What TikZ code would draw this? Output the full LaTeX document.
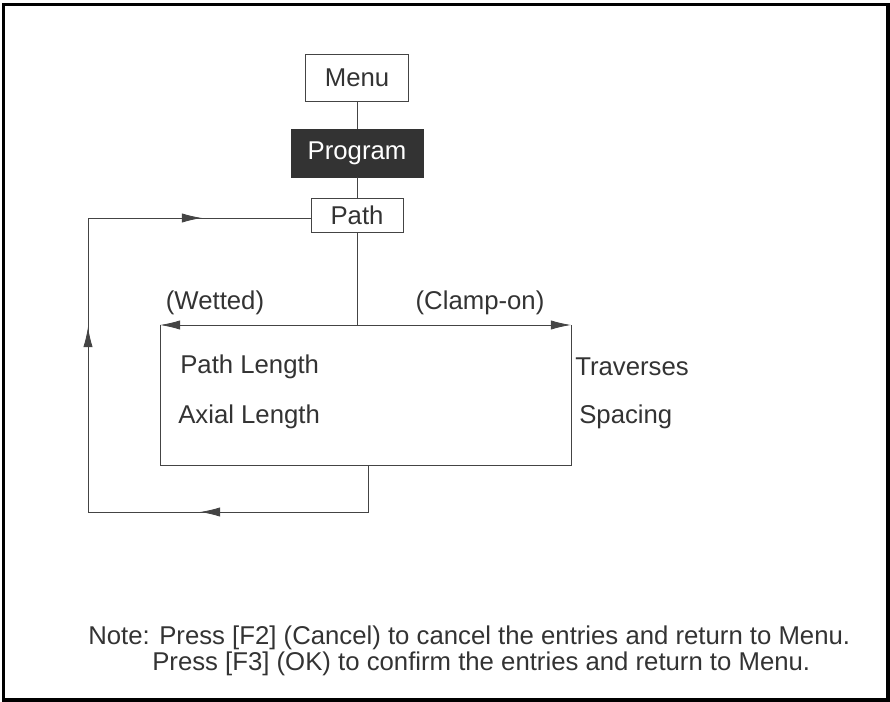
\documentclass[tikz,border=0pt]{standalone}
\usepackage{fontspec}
\setmainfont{Liberation Sans}
\usetikzlibrary{arrows.meta}
\definecolor{ink}{HTML}{333333}
\definecolor{wire}{HTML}{444444}
\tikzset{
  menubox/.style={draw=wire, line width=0.6pt, inner sep=0pt, text=ink},
  darkbox/.style={fill=ink, draw=ink, inner sep=0pt, text=white},
  lbl/.style={inner sep=0pt, text=ink},
  flow/.style={-{Latex[length=5mm,width=2.3mm]}, draw=wire, line width=0.6pt},
}
\begin{document}
\begin{tikzpicture}[x=0.025cm, y=-0.025cm, font=\fontsize{18.3pt}{22pt}\selectfont]
  \useasboundingbox (0,0) rectangle (890,702);
  \draw[line width=2.2pt] (3.5,4.5) rectangle (888,700); % frame

  \node[menubox, minimum width=2.575cm, minimum height=1.175cm] (menu) at (357,77.5) {Menu};
  \node[darkbox, minimum width=3.3cm, minimum height=1.2cm] (program) at (357,153) {Program};
  \node[menubox, minimum width=2.3cm, minimum height=0.85cm] (path) at (357,215) {Path};

  \coordinate (split) at (357,325);
  \coordinate (wet) at (160,325);
  \coordinate (clamp) at (571,325);
  \coordinate (wetlow) at (160,465);
  \coordinate (clamplow) at (571,465);
  \coordinate (stub) at (368,465);
  \coordinate (ret) at (368,512);
  \coordinate (corner) at (88,512);
  \coordinate (upper) at (88,218);

  \draw[draw=wire, line width=0.6pt] (menu) -- (program) -- (path) -- (split);
  \draw[flow] (split) -- (wet);
  \draw[flow] (split) -- (clamp);
  \draw[draw=wire, line width=0.6pt] (wet) -- (wetlow) -- (clamplow) -- (clamp);

  % loop back to Path
  \draw[draw=wire, line width=0.6pt] (stub) -- (ret) -- (corner) -- (upper) -- (path.west |- upper);
  \draw[flow] (222,512) -- (200,512);
  \draw[flow] (88,349) -- (88,327);
  \draw[flow] (180,218) -- (202,218);

  \node[lbl] (wetted) at (215,303) {(Wetted)};
  \node[lbl] (clampon) at (480,303) {(Clamp-on)};
  \node[lbl, anchor=west] (plen) at (180,367) {Path Length};
  \node[lbl, anchor=west] (alen) at (178,417) {Axial Length};
  \node[lbl, anchor=west] (trav) at (575,367) {Traverses};
  \node[lbl, anchor=west] (spac) at (579,417) {Spacing};

  \node[lbl, anchor=west] (note1) at (88,638) {Note: Press [F2] (Cancel) to cancel the entries and return to Menu.};
  \node[lbl, anchor=west] (note2) at (152,664) {Press [F3] (OK) to confirm the entries and return to Menu.};
\end{tikzpicture}
\end{document}
